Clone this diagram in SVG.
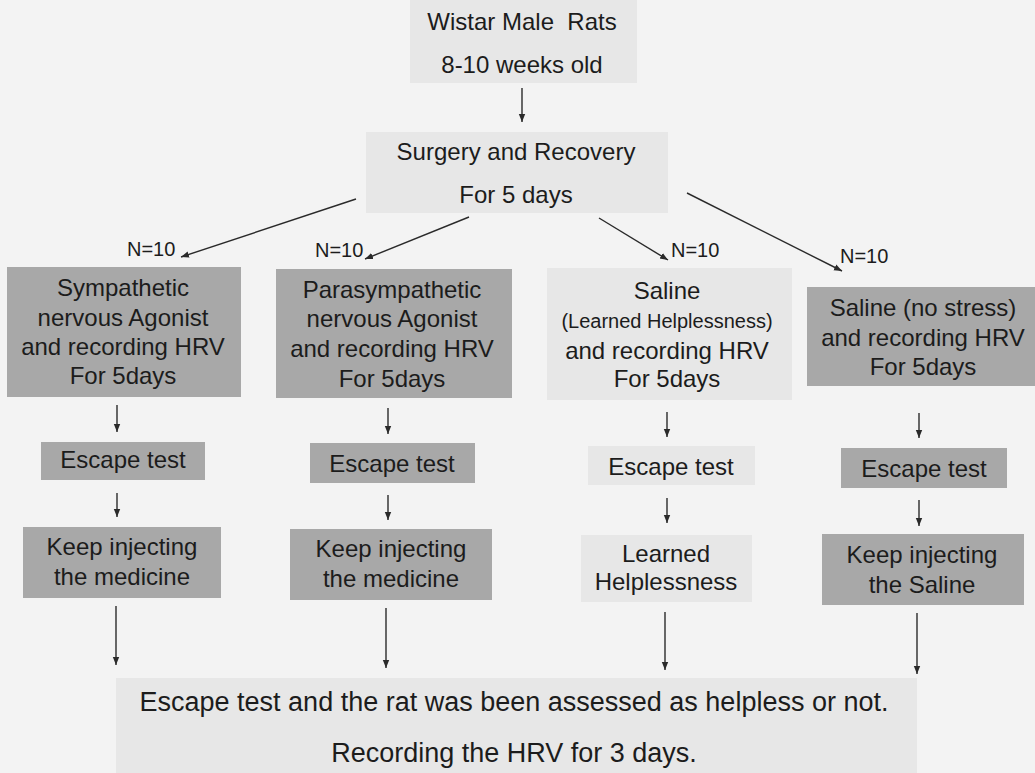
<svg xmlns="http://www.w3.org/2000/svg" width="1035" height="773" viewBox="0 0 1035 773">
<style>
  text { font-family: "Liberation Sans", Arial, sans-serif; fill: #1c1c1c; text-anchor: middle; }
  .t24 { font-size: 24px; }
  .t20 { font-size: 20px; }
  .t27 { font-size: 27px; }
  .n { font-size: 20px; text-anchor: start; }
  .dark { fill: #a8a8a8; }
  .light { fill: #e7e7e7; }
  .conn line { stroke: #2a2a2a; stroke-width: 1.4; marker-end: url(#ah); }
</style>
<defs>
  <marker id="ah" viewBox="0 0 10 10" refX="10" refY="5" markerWidth="8" markerHeight="8" markerUnits="userSpaceOnUse" orient="auto">
    <path d="M0,1 L10,5 L0,9 z" fill="#2a2a2a"/>
  </marker>
</defs>
<rect x="0" y="0" width="1035" height="773" fill="#f3f3f3"/>

<g id="start">
  <rect class="light" x="410" y="0" width="227" height="83"/>
  <text class="t24" x="522" y="30" xml:space="preserve">Wistar Male  Rats</text>
  <text class="t24" x="522" y="73">8-10 weeks old</text>
</g>
<g id="surgery">
  <rect class="light" x="366" y="132" width="302" height="81"/>
  <text class="t24" x="516" y="160">Surgery and Recovery</text>
  <text class="t24" x="516" y="203">For 5 days</text>
</g>

<g id="labels">
  <text class="n" x="127" y="256">N=10</text>
  <text class="n" x="315" y="257">N=10</text>
  <text class="n" x="671" y="257">N=10</text>
  <text class="n" x="840" y="263">N=10</text>
</g>

<g id="symp">
  <rect class="dark" x="7" y="267" width="234" height="130"/>
  <text class="t24" x="123" y="296">Sympathetic</text>
  <text class="t24" x="123" y="326">nervous Agonist</text>
  <text class="t24" x="123" y="355">and recording HRV</text>
  <text class="t24" x="123" y="384">For 5days</text>
</g>
<g id="para">
  <rect class="dark" x="276" y="269" width="236" height="129"/>
  <text class="t24" x="392" y="298">Parasympathetic</text>
  <text class="t24" x="392" y="327">nervous Agonist</text>
  <text class="t24" x="392" y="357">and recording HRV</text>
  <text class="t24" x="392" y="387">For 5days</text>
</g>
<g id="saline-lh">
  <rect class="light" x="547" y="268" width="245" height="132"/>
  <text class="t24" x="667" y="299">Saline</text>
  <text class="t20" x="667" y="328">(Learned Helplessness)</text>
  <text class="t24" x="667" y="359">and recording HRV</text>
  <text class="t24" x="667" y="387">For 5days</text>
</g>
<g id="saline-ns">
  <rect class="dark" x="807" y="287" width="228" height="99"/>
  <text class="t24" x="923" y="316">Saline (no stress)</text>
  <text class="t24" x="923" y="346">and recording HRV</text>
  <text class="t24" x="923" y="375">For 5days</text>
</g>

<g id="esc1">
  <rect class="dark" x="41" y="442" width="164" height="38"/>
  <text class="t24" x="123" y="468">Escape test</text>
</g>
<g id="esc2">
  <rect class="dark" x="310" y="443" width="165" height="40"/>
  <text class="t24" x="392" y="472">Escape test</text>
</g>
<g id="esc3">
  <rect class="light" x="588" y="446" width="167" height="39"/>
  <text class="t24" x="671" y="475">Escape test</text>
</g>
<g id="esc4">
  <rect class="dark" x="841" y="448" width="166" height="40"/>
  <text class="t24" x="924" y="477">Escape test</text>
</g>

<g id="keep1">
  <rect class="dark" x="23" y="527" width="198" height="71"/>
  <text class="t24" x="122" y="555">Keep injecting</text>
  <text class="t24" x="122" y="585">the medicine</text>
</g>
<g id="keep2">
  <rect class="dark" x="290" y="529" width="202" height="71"/>
  <text class="t24" x="391" y="557">Keep injecting</text>
  <text class="t24" x="391" y="587">the medicine</text>
</g>
<g id="lh">
  <rect class="light" x="581" y="535" width="171" height="67"/>
  <text class="t24" x="666" y="562">Learned</text>
  <text class="t24" x="666" y="590">Helplessness</text>
</g>
<g id="keep4">
  <rect class="dark" x="822" y="534" width="202" height="71"/>
  <text class="t24" x="922" y="563">Keep injecting</text>
  <text class="t24" x="922" y="593">the Saline</text>
</g>

<g id="final">
  <rect class="light" x="116" y="678" width="801" height="95"/>
  <text class="t27" x="514" y="711">Escape test and the rat was been assessed as helpless or not.</text>
  <text class="t27" x="514" y="762">Recording the HRV for 3 days.</text>
</g>

<g id="connectors" class="conn">
  <line x1="522" y1="88" x2="522" y2="122"/>
  <line x1="356" y1="199" x2="181" y2="257"/>
  <line x1="469" y1="217" x2="365" y2="259"/>
  <line x1="599" y1="218" x2="668" y2="260"/>
  <line x1="687" y1="193" x2="842" y2="271"/>
  <line x1="117" y1="405" x2="117" y2="432"/>
  <line x1="388" y1="408" x2="388" y2="434"/>
  <line x1="667" y1="412" x2="667" y2="437"/>
  <line x1="919" y1="413" x2="919" y2="438"/>
  <line x1="117" y1="493" x2="117" y2="517"/>
  <line x1="388" y1="495" x2="388" y2="520"/>
  <line x1="667" y1="498" x2="667" y2="523"/>
  <line x1="919" y1="500" x2="919" y2="526"/>
  <line x1="116" y1="606" x2="116" y2="665"/>
  <line x1="386" y1="608" x2="386" y2="668"/>
  <line x1="665" y1="612" x2="665" y2="670"/>
  <line x1="917" y1="613" x2="917" y2="674"/>
</g>
</svg>
